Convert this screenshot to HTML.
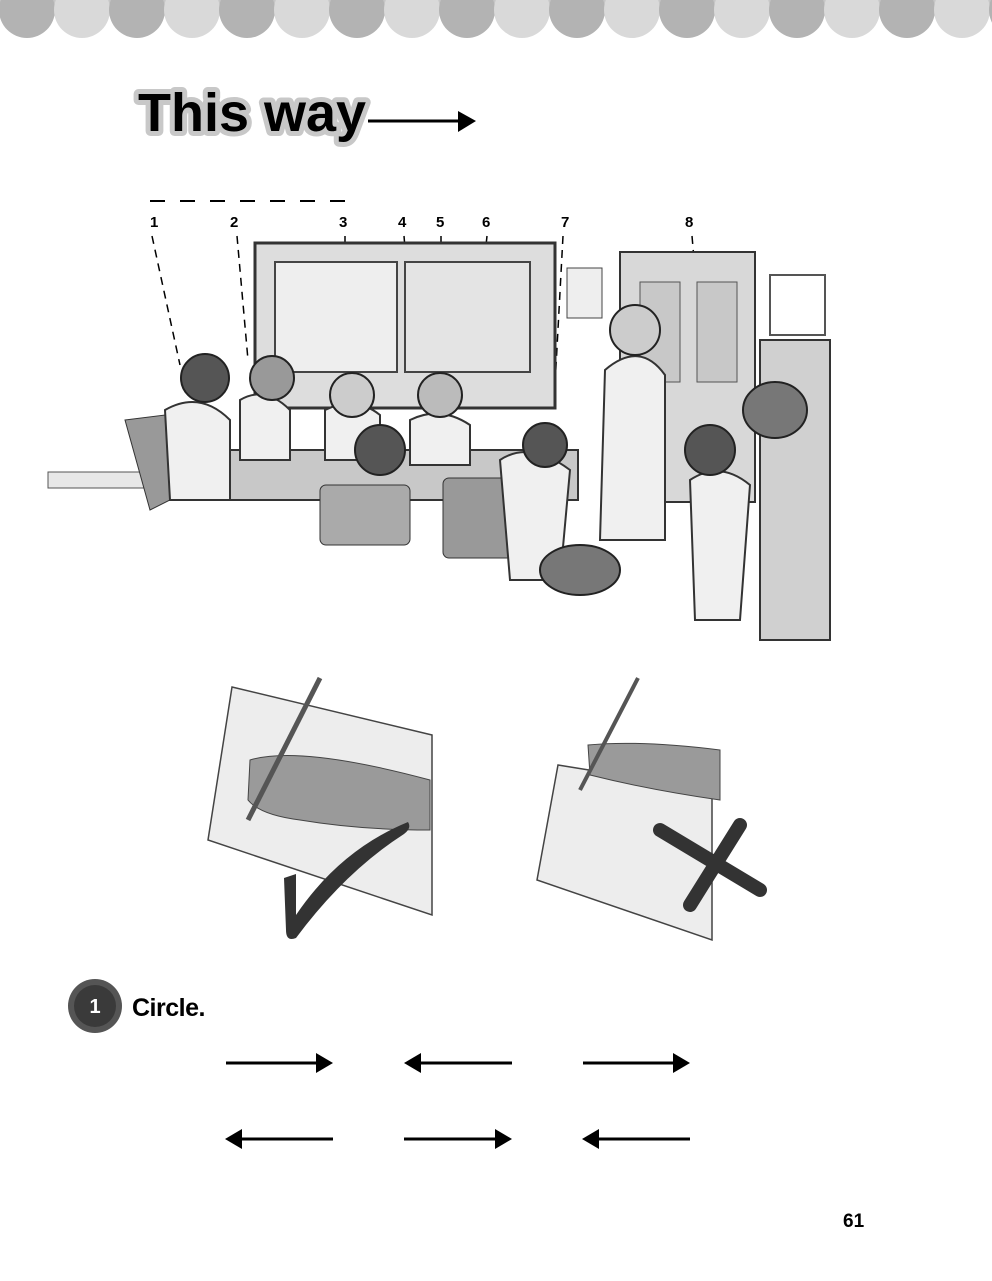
<!DOCTYPE html>
<html><head><style>
body{margin:0;background:#fff;width:992px;height:1276px;overflow:hidden;font-family:"Liberation Sans",sans-serif}
</style></head><body>
<svg width="992" height="1276" viewBox="0 0 992 1276" xmlns="http://www.w3.org/2000/svg" font-family="Liberation Sans, sans-serif">
<g>
<rect x="0" y="0" width="992" height="12" fill="#c6c6c6"/>
<circle cx="27" cy="10" r="28" fill="#b3b3b3"/><circle cx="82" cy="10" r="28" fill="#d9d9d9"/>
<circle cx="137" cy="10" r="28" fill="#b3b3b3"/><circle cx="192" cy="10" r="28" fill="#d9d9d9"/>
<circle cx="247" cy="10" r="28" fill="#b3b3b3"/><circle cx="302" cy="10" r="28" fill="#d9d9d9"/>
<circle cx="357" cy="10" r="28" fill="#b3b3b3"/><circle cx="412" cy="10" r="28" fill="#d9d9d9"/>
<circle cx="467" cy="10" r="28" fill="#b3b3b3"/><circle cx="522" cy="10" r="28" fill="#d9d9d9"/>
<circle cx="577" cy="10" r="28" fill="#b3b3b3"/><circle cx="632" cy="10" r="28" fill="#d9d9d9"/>
<circle cx="687" cy="10" r="28" fill="#b3b3b3"/><circle cx="742" cy="10" r="28" fill="#d9d9d9"/>
<circle cx="797" cy="10" r="28" fill="#b3b3b3"/><circle cx="852" cy="10" r="28" fill="#d9d9d9"/>
<circle cx="907" cy="10" r="28" fill="#b3b3b3"/><circle cx="962" cy="10" r="28" fill="#d9d9d9"/>
<circle cx="1017" cy="10" r="28" fill="#b3b3b3"/>
</g>
<text x="138" y="131" font-size="54" font-weight="bold" fill="#000" stroke="#c8c8c8" stroke-width="10" paint-order="stroke" stroke-linejoin="round" textLength="228" lengthAdjust="spacingAndGlyphs">This way</text>
<line x1="368" y1="121" x2="460" y2="121" stroke="#000" stroke-width="3"/>
<polygon points="458,111 476,121 458,132" fill="#000"/>
<line x1="150" y1="201" x2="346" y2="201" stroke="#000" stroke-width="2" stroke-dasharray="15,15"/>
<g font-size="15" font-weight="bold">
<text x="150" y="227">1</text><text x="230" y="227">2</text><text x="339" y="227">3</text><text x="398" y="227">4</text><text x="436" y="227">5</text><text x="482" y="227">6</text><text x="561" y="227">7</text><text x="685" y="227">8</text>
</g>
<g stroke="#000" stroke-width="1.5" stroke-dasharray="8,6" fill="none">
<line x1="152" y1="236" x2="180" y2="365"/><line x1="237" y1="236" x2="248" y2="360"/>
<line x1="345" y1="236" x2="345" y2="310"/><line x1="404" y1="236" x2="412" y2="330"/>
<line x1="441" y1="236" x2="441" y2="300"/><line x1="487" y1="236" x2="478" y2="320"/>
<line x1="563" y1="236" x2="555" y2="385"/><line x1="692" y1="236" x2="705" y2="385"/>
</g>
<rect x="255" y="243" width="300" height="165" fill="#ddd" stroke="#333" stroke-width="3"/>
<rect x="275" y="262" width="122" height="110" fill="#eee" stroke="#444" stroke-width="2"/>
<rect x="405" y="262" width="125" height="110" fill="#e4e4e4" stroke="#444" stroke-width="2"/>
<rect x="620" y="252" width="135" height="250" fill="#d8d8d8" stroke="#333" stroke-width="2"/>
<rect x="640" y="282" width="40" height="100" fill="#c8c8c8" stroke="#555"/>
<rect x="697" y="282" width="40" height="100" fill="#c8c8c8" stroke="#555"/>
<rect x="770" y="275" width="55" height="60" fill="#fff" stroke="#555" stroke-width="2"/>
<rect x="760" y="340" width="70" height="300" fill="#d0d0d0" stroke="#333" stroke-width="2"/>
<rect x="567" y="268" width="35" height="50" fill="#eee" stroke="#444"/>
<rect x="48" y="472" width="160" height="16" fill="#e8e8e8" stroke="#555"/>
<rect x="198" y="450" width="380" height="50" fill="#c8c8c8" stroke="#333" stroke-width="2"/>
<path d="M125 420 L165 415 L170 500 L150 510 Z" fill="#999" stroke="#333"/>
<rect x="320" y="485" width="90" height="60" rx="6" fill="#aaa" stroke="#333"/>
<rect x="443" y="478" width="70" height="80" rx="6" fill="#999" stroke="#333"/>
<g fill="#f0f0f0" stroke="#333" stroke-width="2">
<path d="M165 410 Q200 390 230 420 L230 500 L170 500 Z"/>
<path d="M240 400 Q265 385 290 410 L290 460 L240 460 Z"/>
<path d="M325 410 Q355 395 380 415 L380 460 L325 460 Z"/>
<path d="M410 420 Q440 405 470 425 L470 465 L410 465 Z"/>
<path d="M500 460 Q530 440 570 470 L560 580 L510 580 Z"/>
<path d="M605 370 Q640 340 665 375 L665 540 L600 540 Z"/>
<path d="M690 480 Q720 460 750 485 L740 620 L695 620 Z"/>
</g>
<g fill="#555" stroke="#222" stroke-width="2">
<circle cx="205" cy="378" r="24"/><circle cx="272" cy="378" r="22" fill="#999"/>
<circle cx="352" cy="395" r="22" fill="#ccc"/><circle cx="440" cy="395" r="22" fill="#bbb"/>
<circle cx="380" cy="450" r="25"/><circle cx="545" cy="445" r="22"/>
<circle cx="635" cy="330" r="25" fill="#ccc"/><circle cx="710" cy="450" r="25"/>
<ellipse cx="775" cy="410" rx="32" ry="28" fill="#777"/>
<ellipse cx="580" cy="570" rx="40" ry="25" fill="#777"/>
</g>
<polygon points="232,687 432,735 432,915 208,840" fill="#ededed" stroke="#444" stroke-width="1.5"/>
<path d="M250 760 Q300 745 430 780 L430 830 Q360 830 300 820 Q260 815 248 800 Z" fill="#9a9a9a" stroke="#444"/>
<line x1="320" y1="678" x2="248" y2="820" stroke="#555" stroke-width="5"/>
<path d="M284 878 L296 874 Q296 905 296 915 Q340 850 408 822 Q412 828 404 834 Q345 872 296 938 Q286 942 286 930 Z" fill="#333"/>
<polygon points="558,765 712,790 712,940 537,880" fill="#ededed" stroke="#444" stroke-width="1.5"/>
<path d="M588 745 Q640 740 720 750 L720 800 Q650 790 590 775 Z" fill="#9a9a9a" stroke="#444"/>
<line x1="638" y1="678" x2="580" y2="790" stroke="#555" stroke-width="4"/>
<path d="M660 830 L760 890 M740 825 L690 905" stroke="#333" stroke-width="14" stroke-linecap="round"/>
<circle cx="95" cy="1006" r="27" fill="#555"/>
<circle cx="95" cy="1006" r="21" fill="#3a3a3a"/>
<text x="95" y="1013" font-size="20" font-weight="bold" fill="#fff" text-anchor="middle">1</text>
<text x="132" y="1016" font-size="25" font-weight="bold" letter-spacing="-0.5">Circle.</text>
<g stroke="#000" stroke-width="3">
<line x1="226" y1="1063" x2="318" y2="1063"/><line x1="419" y1="1063" x2="512" y2="1063"/><line x1="583" y1="1063" x2="675" y2="1063"/>
<line x1="240" y1="1139" x2="333" y2="1139"/><line x1="404" y1="1139" x2="497" y2="1139"/><line x1="597" y1="1139" x2="690" y2="1139"/>
</g>
<g fill="#000">
<polygon points="316,1053 333,1063 316,1073"/><polygon points="421,1053 404,1063 421,1073"/><polygon points="673,1053 690,1063 673,1073"/>
<polygon points="242,1129 225,1139 242,1149"/><polygon points="495,1129 512,1139 495,1149"/><polygon points="599,1129 582,1139 599,1149"/>
</g>
<text x="843" y="1227" font-size="19" font-weight="bold">61</text>
</svg>
</body></html>
